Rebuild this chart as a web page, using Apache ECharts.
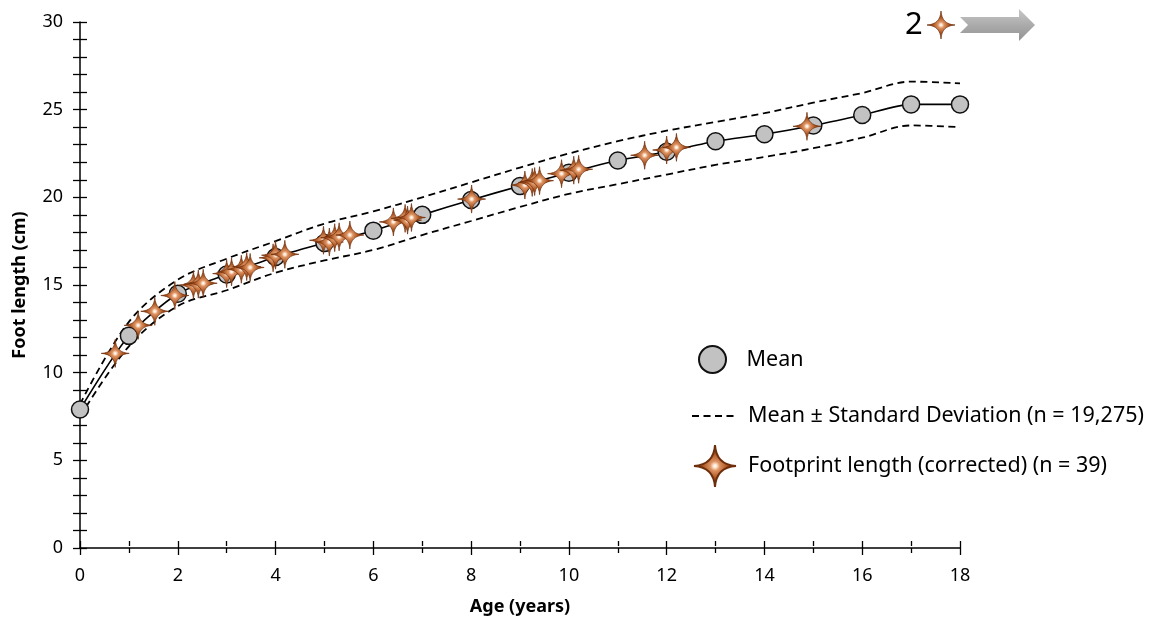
<!DOCTYPE html>
<html><head><meta charset="utf-8">
<script src="https://cdn.jsdelivr.net/npm/echarts@6/dist/echarts.min.js"></script>
<style>html,body{margin:0;padding:0;background:#fff}#c{width:1151px;height:618px}</style>
</head><body><div id="c"></div>
<script>
// ---- data ----
const ages = [0,1,2,3,4,5,6,7,8,9,10,11,12,13,14,15,16,17,18];
const meanFoot  = [7.9,12.1,14.5,15.6,16.6,17.4,18.1,19.0,19.85,20.65,21.4,22.1,22.6,23.2,23.6,24.1,24.7,25.3,25.3];
const upperSD   = [8.2,12.9,15.3,16.5,17.5,18.5,19.2,20.0,20.85,21.7,22.5,23.2,23.8,24.3,24.8,25.4,25.95,26.6,26.5];
const lowerSD   = [7.5,11.5,13.8,14.7,15.7,16.4,17.0,17.85,18.65,19.45,20.2,20.75,21.3,21.85,22.3,22.8,23.4,24.1,24.0];
const footAge    = [0.72,1.19,1.53,1.94,2.32,2.42,2.52,3.0,3.1,3.3,3.41,3.48,3.95,4.0,4.19,4.98,5.1,5.21,5.3,5.52,6.41,6.65,6.7,6.78,8.01,9.1,9.25,9.3,9.4,9.85,10.1,10.2,11.55,12.0,12.2,14.87];
const footLength = [11.1,12.7,13.5,14.4,15.0,15.05,15.1,15.65,15.75,15.9,16.05,16.0,16.55,16.7,16.75,17.55,17.45,17.7,17.75,17.85,18.6,18.8,18.7,18.85,19.9,20.7,20.85,20.9,20.95,21.35,21.55,21.6,22.4,22.7,22.85,24.05];
const offChartCount = '2';
const xMin = 0, xMax = 18, xInterval = 2;
const yMin = 0, yMax = 30, yInterval = 5;
const names = {
  mean: 'Mean',
  sd: 'Mean \u00B1 Standard Deviation (n = 19,275)',
  foot: 'Footprint length (corrected) (n = 39)',
  xTitle: 'Age (years)',
  yTitle: 'Foot length (cm)'
};

// ---- chart ----
const FONT = 'Noto Sans';
const starPathData = 'M50,0 C52,32 68,48 100,50 C68,52 52,68 50,100 C48,68 32,52 0,50 C32,48 48,32 50,0 Z';
const starPath = 'path://' + starPathData;
function starFill(){
  return {type:'radial', x:0.5, y:0.5, r:0.5, colorStops:[
    {offset:0,color:'#ffffff'},{offset:0.08,color:'#fde6d2'},{offset:0.22,color:'#dc9160'},
    {offset:0.55,color:'#a9531f'},{offset:1,color:'#7c3410'}]};
}
const chart = echarts.init(document.getElementById('c'), null, {renderer:'canvas'});
const pairs = (xs, ys) => xs.map((x,i)=>[x, ys[i]]);
const axisCommon = {color:'#000', fontFamily:FONT};
const tickLine = {color:'#000', width:1.3};
const clearLine = {show:true, onZero:false, lineStyle:{color:'rgba(0,0,0,0)', width:0}};
const dash = [7, 4.5];
const TICK = 7;
const G = {left:80, right:191, top:22, bottom:70};
const xBase = {type:'value', min:xMin, max:xMax, interval:xInterval, position:'bottom', splitLine:{show:false}};
const yBase = {type:'value', min:yMin, max:yMax, interval:yInterval, position:'left', splitLine:{show:false}};
chart.setOption({
  animation:false,
  backgroundColor:'#fff',
  grid:[
    {left:G.left, right:G.right, top:G.top, bottom:G.bottom, containLabel:false, outerBoundsMode:'none'},
    // companion grids: their outward ticks form the inner half of the crossing ticks
    {left:G.left+TICK, right:G.right, top:G.top, bottom:G.bottom, containLabel:false, outerBoundsMode:'none'},
    {left:G.left, right:G.right, top:G.top, bottom:G.bottom+TICK, containLabel:false, outerBoundsMode:'none'}
  ],
  xAxis:[
    Object.assign({}, xBase, {gridIndex:0,
      axisLine:{show:true, onZero:false, lineStyle:{color:'#000', width:1.5}},
      axisTick:{show:true, length:TICK, lineStyle:tickLine},
      minorTick:{show:true, splitNumber:2, length:5, lineStyle:tickLine},
      axisLabel:Object.assign({fontSize:18, margin:19}, axisCommon),
      name:names.xTitle, nameLocation:'middle', nameGap:50,
      nameTextStyle:{fontSize:18, fontWeight:'bold', color:'#000', fontFamily:FONT}
    }),
    Object.assign({}, xBase, {gridIndex:1, show:false}),
    Object.assign({}, xBase, {gridIndex:2,
      axisLine:clearLine,
      axisTick:{show:true, length:TICK, lineStyle:tickLine},
      minorTick:{show:true, splitNumber:2, length:5, lineStyle:tickLine},
      axisLabel:{show:false}
    })
  ],
  yAxis:[
    Object.assign({}, yBase, {gridIndex:0,
      axisLine:{show:true, onZero:false, lineStyle:{color:'#000', width:1.5}},
      axisTick:{show:true, length:TICK, lineStyle:tickLine},
      minorTick:{show:true, splitNumber:5, length:TICK, lineStyle:tickLine},
      axisLabel:Object.assign({fontSize:18, margin:17}, axisCommon),
      name:names.yTitle, nameLocation:'middle', nameGap:51,
      nameTextStyle:{fontSize:18, fontWeight:'bold', color:'#000', fontFamily:FONT}
    }),
    Object.assign({}, yBase, {gridIndex:1,
      axisLine:clearLine,
      axisTick:{show:true, length:TICK, lineStyle:tickLine},
      minorTick:{show:true, splitNumber:5, length:TICK, lineStyle:tickLine},
      axisLabel:{show:false}
    }),
    Object.assign({}, yBase, {gridIndex:2, show:false})
  ],
  legend:[
    {data:[{name:names.mean, icon:'circle'}], left:698, top:345, padding:0, orient:'vertical',
     itemWidth:42, itemHeight:27, selectedMode:false,
     textStyle:{fontSize:21.5, color:'#000', fontFamily:FONT, padding:[0,0,0,8]}},
    {data:[{name:names.sd}], left:691, top:405, padding:0, orient:'vertical',
     itemWidth:42, itemHeight:14, selectedMode:false,
     itemStyle:{color:'rgba(0,0,0,0)', borderColor:'rgba(0,0,0,0)', borderWidth:0},
     textStyle:{fontSize:21.5, color:'#000', fontFamily:FONT, padding:[0,0,0,9]}},
    {data:[{name:names.foot, icon:starPath}], left:693, top:444, padding:0, orient:'vertical',
     itemWidth:42, itemHeight:43, selectedMode:false,
     textStyle:{fontSize:21.5, color:'#000', fontFamily:FONT, padding:[0,0,0,7]}}
  ],
  series:[
    {name:names.sd, type:'line', data:pairs(ages, upperSD), smooth:0.35, symbol:'none',
     lineStyle:{color:'#000', width:1.8, type:dash}, itemStyle:{color:'#000'}, z:2},
    {name:'lowerSD', type:'line', data:pairs(ages, lowerSD), smooth:0.35, symbol:'none',
     lineStyle:{color:'#000', width:1.8, type:dash}, itemStyle:{color:'#000'}, z:2},
    {name:names.mean, type:'line', data:pairs(ages, meanFoot), smooth:0.25, symbol:'circle', symbolSize:17,
     lineStyle:{color:'#000', width:1.6},
     itemStyle:{color:'#c2c2c2', borderColor:'#111', borderWidth:1.5}, z:3},
    {name:names.foot, type:'scatter', data:pairs(footAge, footLength), symbol:starPath, symbolSize:28,
     itemStyle:{color:starFill(), borderColor:'#6e2e0c', borderWidth:0.7, opacity:1}, z:4,
     markPoint:{silent:true, symbol:starPath, symbolSize:28, label:{show:false},
       itemStyle:{color:starFill(), borderColor:'#6e2e0c', borderWidth:0.7},
       data:[{x:941, y:25}]}}
  ],
  graphic:[
    {type:'text', left:905, top:10, style:{text:offChartCount, font:'31px "'+FONT+'"', fill:'#000'}},
    {type:'polygon', shape:{points:[[960,17],[1019,17],[1019,9],[1035,25],[1019,41],[1019,33],[960,33],[968,25]]},
     style:{fill:{type:'linear', x:0, y:0, x2:0, y2:1, colorStops:[
       {offset:0,color:'#c8c8c8'},{offset:0.5,color:'#ababab'},{offset:1,color:'#939393'}]}}}
  ]
});
</script>
</body></html>
